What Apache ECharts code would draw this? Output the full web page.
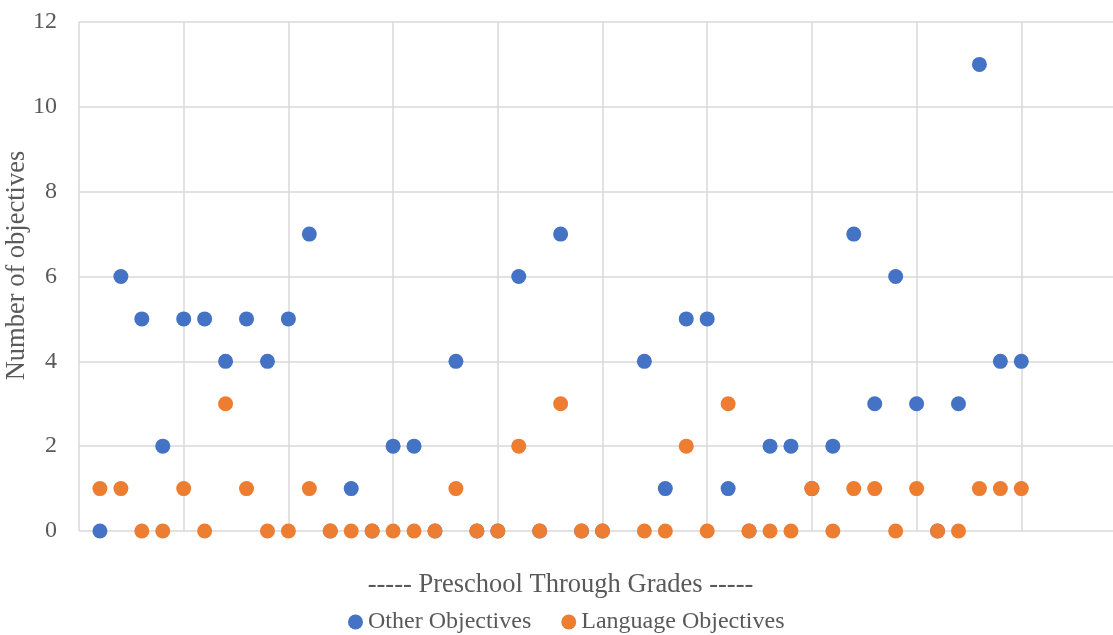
<!DOCTYPE html>
<html>
<head>
<meta charset="utf-8">
<script src="https://cdn.jsdelivr.net/npm/echarts@6/dist/echarts.min.js"></script>
<style>html,body{margin:0;padding:0;background:#fff;}#c{width:1113px;height:635px;}</style>
</head>
<body>
<div id="c"></div>
<script>
// Position along the x axis (preschool through grades), 1..45; position 26 has no data
const positions = [1,2,3,4,5,6,7,8,9,10,11,12,13,14,15,16,17,18,19,20,21,22,23,24,25,26,27,28,29,30,31,32,33,34,35,36,37,38,39,40,41,42,43,44,45];
const otherObjectives = [0,6,5,2,5,5,4,5,4,5,7,0,1,0,2,2,0,4,0,0,6,0,7,0,0,null,4,1,5,5,1,0,2,2,1,2,7,3,6,3,0,3,11,4,4];
const languageObjectives = [1,1,0,0,1,0,3,1,0,0,1,0,0,0,0,0,0,1,0,0,2,0,3,0,0,null,0,0,2,0,3,0,0,0,1,0,1,1,0,1,0,0,1,1,1];
const yTicks = [0,2,4,6,8,10,12];
const seriesNames = ['Other Objectives','Language Objectives'];
const xTitle = '----- Preschool Through Grades -----';
const yTitle = 'Number of objectives';

function pairs(vals){
  const out = [];
  positions.forEach((p,i)=>{ if(vals[i]!==null && vals[i]!==undefined) out.push([p, vals[i]]); });
  return out;
}
const FONT = '"Liberation Serif", "DejaVu Serif", serif';
const TXT = '#595959';
const chart = echarts.init(document.getElementById('c'), null, {renderer:'canvas'});
chart.setOption({
  animation:false,
  color:['#4472C4','#ED7D31'],
  textStyle:{fontFamily:FONT, color:TXT},
  grid:{left:79, top:22, right:-13, bottom:104, containLabel:false, outerBoundsMode:'none'},
  xAxis:{
    type:'value', min:0, max:50, interval:5,
    name:xTitle, nameLocation:'middle', nameGap:41, nameMoveOverlap:false,
    nameTextStyle:{fontFamily:FONT, fontSize:26.5, color:TXT, padding:[0,84,0,0]},
    axisLabel:{show:false}, axisTick:{show:false},
    axisLine:{show:false},
    splitLine:{show:true, lineStyle:{color:'#d9d9d9', width:1.5}}
  },
  yAxis:{
    type:'value', min:yTicks[0], max:yTicks[yTicks.length-1], interval:2,
    name:yTitle, nameLocation:'middle', nameGap:48, nameMoveOverlap:false,
    nameTextStyle:{fontFamily:FONT, fontSize:26.5, color:TXT, padding:[0,0,0,22]},
    axisLabel:{fontFamily:FONT, fontSize:24, color:TXT, margin:22},
    axisTick:{show:false}, axisLine:{show:false},
    splitLine:{show:true, lineStyle:{color:'#d9d9d9', width:1.5}}
  },
  legend:{
    top:610, left:348, icon:'circle', itemWidth:15, itemHeight:15, itemGap:30, padding:0,
    textStyle:{fontFamily:FONT, fontSize:24, color:TXT},
    data:seriesNames
  },
  series:[
    {name:seriesNames[0], type:'scatter', symbolSize:15, itemStyle:{opacity:1}, data:pairs(otherObjectives), z:2},
    {name:seriesNames[1], type:'scatter', symbolSize:15, itemStyle:{opacity:1}, data:pairs(languageObjectives), z:3}
  ]
});
</script>
</body>
</html>
